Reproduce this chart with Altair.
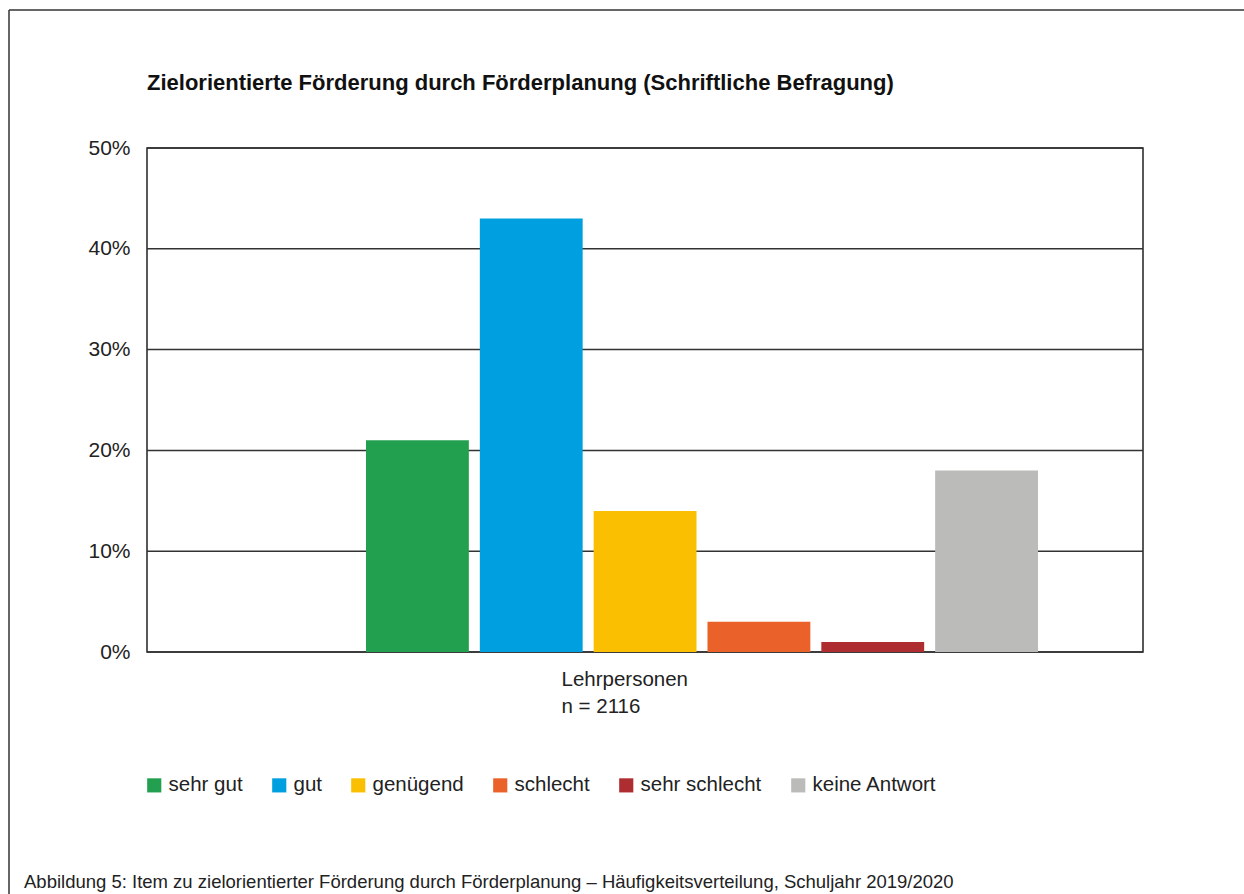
import altair as alt
import pandas as pd

antworten = ["sehr gut", "gut", "genügend", "schlecht", "sehr schlecht", "keine Antwort"]
anteile = [21, 43, 14, 3, 1, 18]
farben = ["#22A050", "#00A0E0", "#FABF00", "#EA6129", "#AE2D30", "#BBBBBA"]
y_ticks = [0, 10, 20, 30, 40, 50]

titel = "Zielorientierte Förderung durch Förderplanung (Schriftliche Befragung)"
x_titel = ["Lehrpersonen", "n = 2116"]
caption = "Abbildung 5: Item zu zielorientierter Förderung durch Förderplanung – Häufigkeitsverteilung, Schuljahr 2019/2020"

df = pd.DataFrame({"antwort": antworten, "anteil": anteile})
grid_df = pd.DataFrame({"wert": y_ticks})

FONT = "Liberation Sans"
TXT = "#222222"

y_scale = alt.Scale(domain=[0, 50], nice=False)

grid = alt.Chart(grid_df).mark_rule(color="#333333", strokeWidth=1.5).encode(
    y=alt.Y("wert:Q", scale=y_scale),
    x=alt.value(0), x2=alt.value(996))

bars = alt.Chart(df).mark_bar().encode(
    x=alt.X("antwort:N", sort=antworten,
            scale=alt.Scale(range=[219, 891], paddingInner=0.0965, paddingOuter=0),
            axis=alt.Axis(labels=False, ticks=False, domain=False, title=x_titel,
                          titleFont=FONT, titleFontSize=20.5, titleFontWeight="normal",
                          titleColor=TXT, titleAlign="left", titleX=414, titleY=17,
                          titleBaseline="top", titleLineHeight=27)),
    y=alt.Y("anteil:Q", scale=y_scale,
            axis=alt.Axis(values=y_ticks, labelExpr="datum.value + '%'", title=None,
                          domain=False, ticks=False, grid=False,
                          labelFont=FONT, labelFontSize=21, labelColor=TXT,
                          labelPadding=17)),
    color=alt.Color("antwort:N", sort=antworten, title=None,
                    scale=alt.Scale(domain=antworten, range=farben),
                    legend=alt.Legend(orient="none", legendX=-3, legendY=627, direction="horizontal",
                                      padding=0, symbolType="square", symbolSize=200,
                                      symbolStrokeWidth=0, labelFont=FONT, labelFontSize=20.5,
                                      labelColor=TXT, labelOffset=4, columnPadding=26,
                                      labelLimit=300)),
)

base1 = alt.Chart(pd.DataFrame({"a": [0]}))
top_rule = base1.mark_rule(color="#333333", strokeWidth=1.5).encode(
    x=alt.value(-138), x2=alt.value(1100), y=alt.value(-138))
left_rule = base1.mark_rule(color="#333333", strokeWidth=1.5).encode(
    x=alt.value(-138), y=alt.value(-138), y2=alt.value(750))
title_txt = base1.mark_text(align="left", baseline="alphabetic", font=FONT, fontSize=22,
                            fontWeight="bold", color="#111111").encode(
    x=alt.value(0), y=alt.value(-58), text=alt.value(titel))
cap = base1.mark_text(align="left", baseline="middle", font=FONT, fontSize=18.5, color=TXT).encode(
    x=alt.value(-123), y=alt.value(734), text=alt.value(caption))

chart = alt.layer(grid, bars, top_rule, left_rule, title_txt, cap).properties(
    width=996, height=504,
    padding={"left": 147, "top": 148, "right": 101, "bottom": 242},
    autosize=alt.AutoSizeParams(type="none"),
).configure_view(stroke="#222222", strokeWidth=1.5)

chart.save("out.html", embed_options={"renderer": "svg", "actions": False})
